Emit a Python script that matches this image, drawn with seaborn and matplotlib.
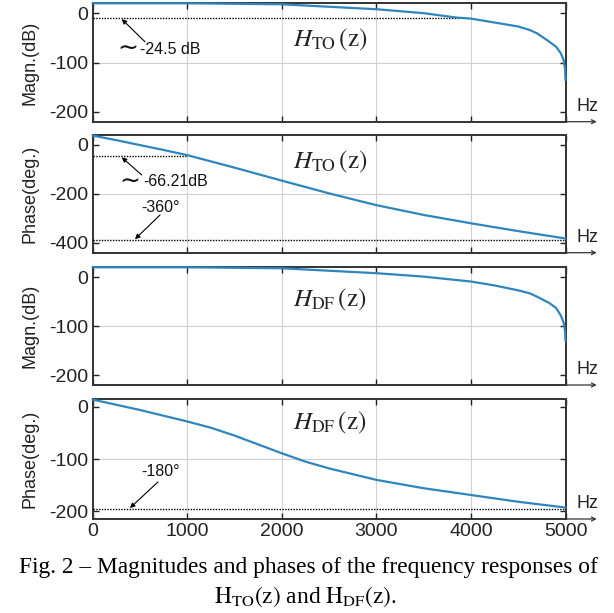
import numpy as np
import pandas as pd
import matplotlib
matplotlib.use("Agg")
import matplotlib.pyplot as plt
import seaborn as sns

# ---------------- data ----------------
freq_to_mag = [0, 500, 1000, 1500, 2000, 2500, 3000, 3500, 3850, 4000, 4250, 4500,
               4620, 4700, 4830, 4900, 4950, 4980, 4995, 5000]
mag_to = [20, 20, 20, 19, 18, 13, 8, 0, -9, -11, -19, -27,
          -34, -41, -58, -68, -81, -95, -112, -136]

freq_to_ph = [0, 250, 500, 750, 1000, 1500, 2000, 2500, 3000, 3500, 4000, 4500, 5000]
ph_to = [38, 19, -1, -21, -42, -93, -146, -198, -246, -286, -320, -352, -382]

freq_df_mag = [0, 1000, 1500, 2000, 2500, 3000, 3500, 4000, 4250, 4500,
               4620, 4700, 4830, 4900, 4950, 4980, 4995, 5000]
mag_df = [20, 20, 19, 18, 13, 8, 1, -9, -17, -27,
          -33, -40, -53, -63, -78, -93, -110, -130]

freq_df_ph = [0, 500, 1000, 1250, 1500, 1750, 2000, 2250, 2500, 3000, 3500, 4000, 4500, 5000]
ph_df = [14, -6, -28, -40, -55, -72, -89, -105, -118, -140, -156, -169, -182, -193]

x_ticks = [0, 1000, 2000, 3000, 4000, 5000]
y_ticks_mag = [0, -100, -200]
y_ticks_ph_to = [0, -200, -400]
y_ticks_ph_df = [0, -100, -200]

# reference levels (dotted lines): (level, x_end)
ref_mag_to = [(-9, 3860)]
ref_ph_to = [(-44, 1000), (-389, 5000)]
ref_ph_df = [(-196, 5000)]

titles = [r"$H_{\mathrm{TO}}\,(\mathrm{z})$", r"$H_{\mathrm{TO}}\,(\mathrm{z})$",
          r"$H_{\mathrm{DF}}\,(\mathrm{z})$", r"$H_{\mathrm{DF}}\,(\mathrm{z})$"]
ylabels = ["Magn.(dB)", "Phase(deg.)", "Magn.(dB)", "Phase(deg.)"]

# ---------------- style ----------------
sns.set_theme(style="white")
plt.rcParams["font.family"] = ["Liberation Sans", "DejaVu Sans"]
plt.rcParams["mathtext.fontset"] = "stix"
plt.rcParams["axes.unicode_minus"] = False

W, H = 614, 613
fig = plt.figure(figsize=(W / 100, H / 100), dpi=100)
fig.patch.set_facecolor("white")

left_px, right_px = 92.5, 565.5
panels_px = [(3.3, 121.7), (135, 252.7), (267.3, 385), (399, 519)]
ylims = [(-220, 20), (-440, 40), (-220, 20), (-215, 15)]
yticks = [y_ticks_mag, y_ticks_ph_to, y_ticks_mag, y_ticks_ph_df]
data = [(freq_to_mag, mag_to), (freq_to_ph, ph_to), (freq_df_mag, mag_df), (freq_df_ph, ph_df)]
refs = [ref_mag_to, ref_ph_to, [], ref_ph_df]
title_pos = [(2510, -54), (2510, -69), (2510, -46), (2510, -31)]
line_color = "#2f86bd"

axes = []
for i, ((top, bot), ylim, yt, (fx, fy)) in enumerate(zip(panels_px, ylims, yticks, data)):
    ax = fig.add_axes([left_px / W, 1 - bot / H, (right_px - left_px) / W, (bot - top) / H])
    axes.append(ax)
    df = pd.DataFrame({"f": fx, "v": fy})
    sns.lineplot(data=df, x="f", y="v", ax=ax, color=line_color, lw=1.6, sort=False,
                 estimator=None, clip_on=False, zorder=4)
    for lvl, xe in refs[i]:
        ax.plot([0, xe], [lvl, lvl], color="black", lw=1.0, ls=(0, (1, 1)), zorder=3)
    ax.set_xlim(0, 5000)
    ax.set_ylim(*ylim)
    ax.set_xticks(x_ticks)
    ax.set_yticks(yt)
    ax.set_xlabel("")
    ax.set_ylabel("")
    ax.grid(True, color="#d0d0d0", lw=0.8)
    ygl = ax.get_ygridlines()
    ygl[0].set_visible(False)
    ygl[-1].set_visible(False)
    ax.tick_params(direction="in", length=4, width=1, color="#222222",
                   top=True, right=True, bottom=True, left=True,
                   labelsize=14, pad=3, labelcolor="#222222")
    if i < 3:
        ax.tick_params(labelbottom=False)
    for s in ax.spines.values():
        s.set_color("#333333")
        s.set_linewidth(1.4)
    ax.text(*title_pos[i], titles[i], fontsize=18, ha="center", va="center", color="#222222")
    # extended axis arrow and Hz
    ax.annotate("", xy=(1.066, 0), xytext=(1.0, 0), xycoords="axes fraction",
                textcoords="axes fraction",
                arrowprops=dict(arrowstyle="->", lw=0.9, color="#333333",
                                shrinkA=0, shrinkB=0, mutation_scale=7),
                annotation_clip=False)
    fig.text(587 / W, 1 - (bot - 15) / H, "Hz", fontsize=13, ha="center", va="center",
             color="#222222")
    fig.text(30 / W, 1 - ((top + bot) / 2) / H, ylabels[i], rotation=90, fontsize=13,
             ha="center", va="center", color="#222222")

arrow_kw = dict(arrowstyle="-|>", lw=0.8, color="black", mutation_scale=7,
                shrinkA=0, shrinkB=0)
txt_kw = dict(fontsize=11.5, va="center", ha="left", color="#111111")
tilde_kw = dict(fontsize=18, va="center", ha="center", color="#111111",
                family=["DejaVu Sans"])

# panel 1 annotation
a = axes[0]
a.annotate("", xy=(309, -12), xytext=(555, -58), arrowprops=arrow_kw)
a.text(370, -73, "\u223c", **tilde_kw)
a.text(502, -73, "-24.5 dB", **txt_kw)

# panel 2 annotations
a = axes[1]
a.annotate("", xy=(309, -51), xytext=(520, -123), arrowprops=arrow_kw)
a.text(397, -151, "\u223c", **tilde_kw)
a.text(534, -151, "-66.21dB", **txt_kw)
a.text(724, -254, "-360°", fontsize=11.5, ha="center", va="center", color="#111111")
a.annotate("", xy=(449, -385), xytext=(714, -286), arrowprops=arrow_kw)

# panel 4 annotation
a = axes[3]
a.text(724, -124, "-180°", fontsize=11.5, ha="center", va="center", color="#111111")
a.annotate("", xy=(396, -194), xytext=(692, -144), arrowprops=arrow_kw)

# caption
fig.text(0.503, 1 - 568 / H, "Fig. 2 – Magnitudes and phases of the frequency responses of",
         fontsize=16.8, ha="center", va="center", family=["Liberation Serif"], color="black")
fig.text(0.497, 1 - 597 / H,
         r"$\mathrm{H_{TO}(z)}$ and $\mathrm{H_{DF}(z)}$.",
         fontsize=16.8, ha="center", va="center", family=["Liberation Serif"], color="black")

fig.savefig("out.png", dpi=100, facecolor="white")
